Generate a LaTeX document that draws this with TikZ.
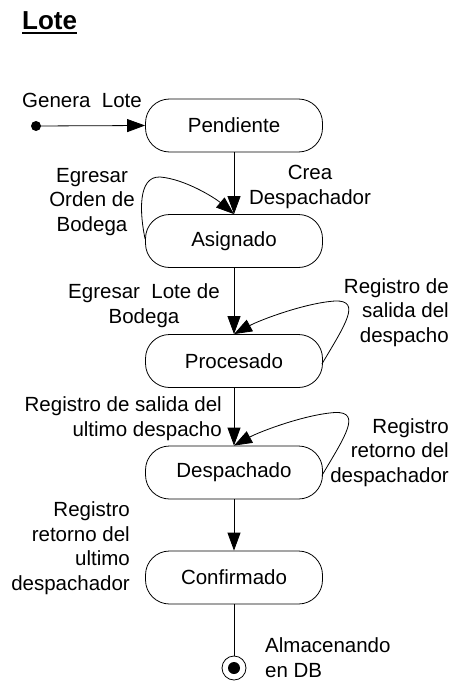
\documentclass[tikz,border=0pt]{standalone}
\usepackage{fontspec}
\setmainfont{Liberation Sans}
\usetikzlibrary{arrows.meta}
\begin{document}
\begin{tikzpicture}[x=1pt,y=-1pt,
  state/.style={draw, line width=0.8pt, rounded corners=24pt, minimum width=177pt, minimum height=53pt, inner sep=0pt, font=\fontsize{20.5}{24.5}\selectfont},
  lbl/.style={inner sep=0pt, font=\fontsize{20.5}{24.5}\selectfont},
  conn/.style={line width=0.8pt, -{Triangle[length=18pt,width=13pt]}},
  plain/.style={line width=0.8pt}
]
\useasboundingbox (0,0) rectangle (452,682);

\node[inner sep=0pt, anchor=base west, font=\fontsize{26}{30}\selectfont\bfseries] (title) at (22,30) {Lote};
\draw[line width=1.8pt] ([yshift=-2.8pt]title.base west) -- ([yshift=-2.8pt]title.base east);

\node[state] (pend) at (234,125.5) {Pendiente};
\node[state] (asig) at (234,241) {Asignado};
\node[state] (proc) at (234,361) {Procesado};
\node[state] (desp) at (234,472.5) {Despachado};
\node[state] (conf) at (234,577.5) {Confirmado};

\fill (36,126) circle (5pt) coordinate (init);
\node[circle, draw, line width=0.8pt, minimum size=24pt, inner sep=0pt] (final) at (234,668) {};
\fill (final.center) circle (6pt);

\draw[conn] (init) -- (pend.west);
\draw[conn] (pend.south) -- (asig.north);
\draw[conn] (asig.south) -- (proc.north);
\draw[conn] (proc.south) -- (desp.north);
\draw[conn] (desp.south) -- (conf.north);
\draw[plain] (conf.south) -- (final.north);

% self loops
\draw[conn] ([yshift=2pt]asig.west) .. controls (140,215) and (137,176) .. (160,177)
   .. controls (185,179) and (215,198) .. (asig.north);
\draw[conn] ([xshift=-1pt,yshift=-3pt]proc.east) .. controls (345,325) and (362,300) .. (335,301)
   .. controls (305,303) and (260,320) .. (proc.north);
\draw[conn] ([xshift=-1pt,yshift=-3pt]desp.east) .. controls (345,436.5) and (362,411.5) .. (335,412.5)
   .. controls (305,414.5) and (260,431.5) .. (desp.north);

% labels (base anchor = baseline of last line)
\node[lbl, anchor=base west] (l1) at (22,108) {Genera~~Lote};
\node[lbl, anchor=base, align=center] (l2) at (310,204) {Crea\\Despachador};
\node[lbl, anchor=base, align=center] (l3) at (92,231) {Egresar\\Orden de\\Bodega};
\node[lbl, anchor=base, align=center] (l4) at (144,323) {Egresar~~Lote de\\Bodega};
\node[lbl, anchor=base east, align=right] (l5) at (449,342) {Registro de\\salida del\\despacho};
\node[lbl, anchor=base east, align=right] (l6) at (222,436) {Registro de salida del\\ultimo despacho};
\node[lbl, anchor=base east, align=right] (l7) at (449,482) {Registro\\retorno del\\despachador};
\node[lbl, anchor=base east, align=right] (l8) at (130,590) {Registro\\retorno del\\ultimo\\despachador};
\node[lbl, anchor=base west, align=left] (l9) at (265,677) {Almacenando\\en DB};
\end{tikzpicture}
\end{document}
